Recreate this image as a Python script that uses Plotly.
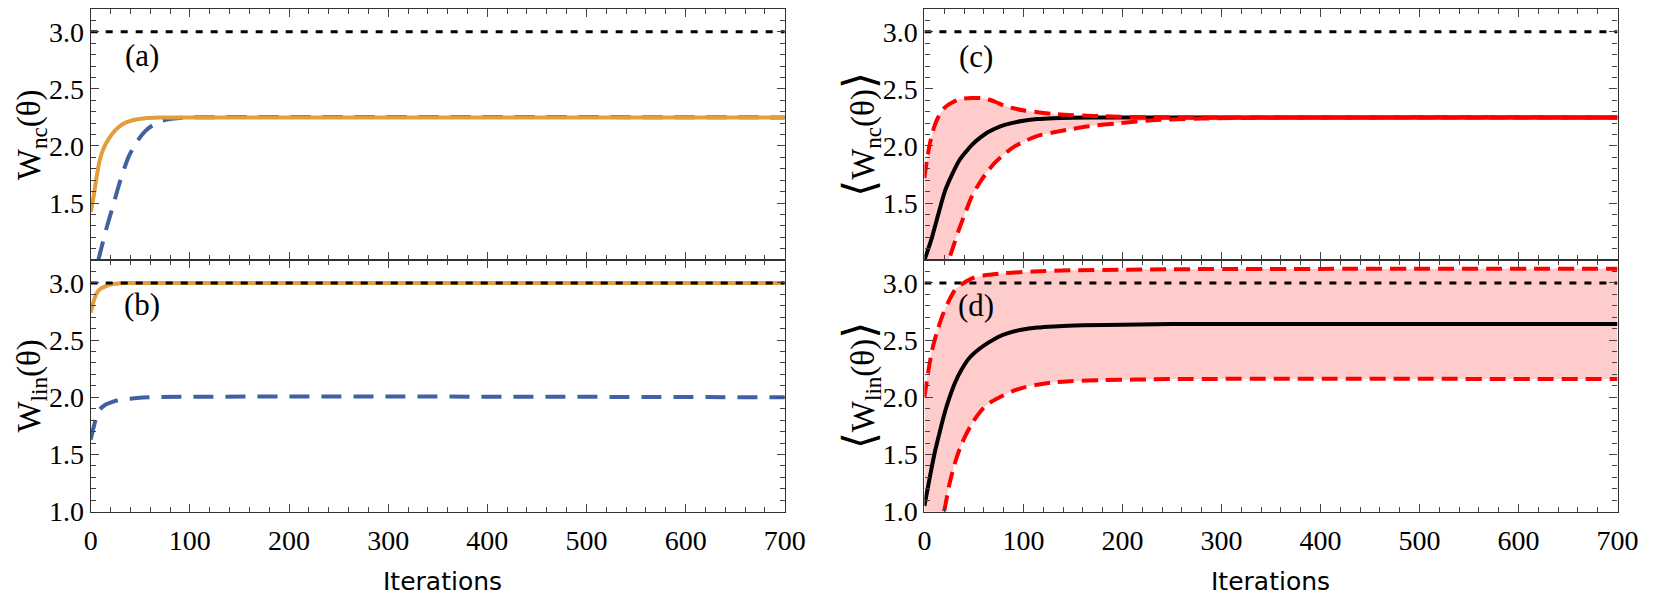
import plotly.graph_objects as go

# ---------------- data ----------------
# Panel (a): W_nc
a_orange_x = [0, 3, 6, 9, 13, 18, 24, 32, 42, 55, 70, 100, 700]
a_orange_y = [1.42, 1.56, 1.73, 1.87, 1.98, 2.06, 2.13, 2.19, 2.225, 2.243, 2.249, 2.25, 2.25]
a_blue_x = [0, 4, 8, 15, 22, 30, 38, 46, 55, 64, 72, 80, 90, 100, 700]
a_blue_y = [0.72, 0.87, 1.01, 1.25, 1.46, 1.70, 1.90, 2.03, 2.13, 2.19, 2.22, 2.235, 2.245, 2.25, 2.25]

# Panel (b): W_lin
b_orange_x = [0, 3, 6, 10, 16, 22, 30, 40, 700]
b_orange_y = [2.74, 2.84, 2.91, 2.95, 2.975, 2.99, 2.998, 3.0, 3.0]
b_blue_x = [0, 3, 6, 9, 14, 22, 30, 42, 60, 700]
b_blue_y = [1.63, 1.74, 1.83, 1.89, 1.93, 1.96, 1.98, 1.99, 2.0, 2.0]

# Panel (c): <W_nc> mean and band
c_mean_x = [0, 4, 8, 14, 21, 28, 35, 42, 48, 56, 64, 76, 88, 100, 114, 130, 150, 180, 220, 700]
c_mean_y = [1.0, 1.1, 1.21, 1.40, 1.61, 1.75, 1.87, 1.95, 2.01, 2.07, 2.12, 2.17, 2.20, 2.22, 2.235, 2.243, 2.247, 2.25, 2.25, 2.25]
c_up_x = [0, 3, 6, 10, 15, 21, 28, 36, 48, 56, 64, 72, 81, 90, 101, 115, 131, 150, 164, 180, 197, 230, 280, 700]
c_up_y = [1.72, 1.90, 2.04, 2.17, 2.27, 2.34, 2.38, 2.41, 2.42, 2.42, 2.41, 2.385, 2.35, 2.33, 2.31, 2.295, 2.28, 2.27, 2.265, 2.26, 2.255, 2.252, 2.25, 2.25]
c_lo_x = [0, 10, 20, 24.5, 30, 35, 42, 48, 56, 64, 72, 81, 90, 101, 115, 131, 150, 164, 197, 230, 280, 350, 700]
c_lo_y = [0.45, 0.7, 0.9, 1.0, 1.14, 1.27, 1.43, 1.56, 1.68, 1.78, 1.86, 1.93, 1.99, 2.04, 2.09, 2.12, 2.15, 2.17, 2.20, 2.225, 2.24, 2.248, 2.25]

# Panel (d): <W_lin> mean and band
d_mean_x = [0, 5, 10, 15, 20, 25, 31, 38, 46, 55, 65, 75, 86, 98, 114, 131, 160, 200, 250, 700]
d_mean_y = [1.05, 1.28, 1.50, 1.68, 1.85, 1.99, 2.13, 2.25, 2.35, 2.42, 2.48, 2.53, 2.565, 2.59, 2.61, 2.62, 2.63, 2.635, 2.64, 2.64]
d_up_x = [0, 4, 8, 13, 18, 24, 31, 38, 48, 60, 81, 110, 147, 200, 250, 700]
d_up_y = [2.0, 2.23, 2.42, 2.58, 2.71, 2.83, 2.94, 2.99, 3.04, 3.065, 3.085, 3.10, 3.11, 3.115, 3.12, 3.125]
d_lo_x = [0, 10, 15, 19.8, 25, 31, 38, 48, 56, 64, 76, 88, 100, 114, 130, 147, 180, 214, 260, 700]
d_lo_y = [0.4, 0.75, 0.88, 1.0, 1.23, 1.43, 1.60, 1.77, 1.87, 1.94, 2.0, 2.05, 2.085, 2.11, 2.13, 2.14, 2.15, 2.155, 2.16, 2.16]

ref_x = [0, 700]
ref_y = [3.0, 3.0]

x_ticks = [0, 100, 200, 300, 400, 500, 600, 700]
y_ticks_top = [1.5, 2.0, 2.5, 3.0]
y_ticks_bottom = [1.0, 1.5, 2.0, 2.5, 3.0]
panel_labels = ["(a)", "(b)", "(c)", "(d)"]

# ---------------- styling ----------------
ORANGE = "#E39D3A"
BLUE = "#3F62A0"
RED = "#FF0000"
FILL = "rgba(255,0,0,0.2)"
SERIF = "Times New Roman, Liberation Serif, DejaVu Serif, serif"
SANS = "DejaVu Sans, Verdana, sans-serif"

fig = go.Figure()

def line(x, y, ax, color, width, dash="solid", fill=None, fillcolor=None):
    fig.add_trace(go.Scatter(x=x, y=y, xaxis="x" + ax, yaxis="y" + ax, mode="lines",
                             line=dict(color=color, width=width, dash=dash, shape="spline", smoothing=0.8),
                             fill=fill, fillcolor=fillcolor,
                             showlegend=False, hoverinfo="skip"))

def band(xu, yu, xl, yl, ax):
    # invisible lower edge, then upper edge filled down to it
    line(xl, yl, ax, "rgba(0,0,0,0)", 0)
    line(xu, yu, ax, "rgba(0,0,0,0)", 0, fill="tonexty", fillcolor=FILL)

DOT = "7px,8px"
BLUE_DASH = "20px,12px"
RED_DASH = "16px,8px"

# (a)
line(ref_x, ref_y, "", "black", 3, DOT)
line(a_blue_x, a_blue_y, "", BLUE, 4, BLUE_DASH)
line(a_orange_x, a_orange_y, "", ORANGE, 4)
# (b)
line(b_blue_x, b_blue_y, "2", BLUE, 4, BLUE_DASH)
line(b_orange_x, b_orange_y, "2", ORANGE, 4)
line(ref_x, ref_y, "2", "black", 3, DOT)
# (c)
band(c_up_x, c_up_y, c_lo_x, c_lo_y, "3")
line(ref_x, ref_y, "3", "black", 3, DOT)
line(c_mean_x, c_mean_y, "3", "black", 4)
line(c_up_x, c_up_y, "3", RED, 4, RED_DASH)
line(c_lo_x, c_lo_y, "3", RED, 4, RED_DASH)
# (d)
band(d_up_x, d_up_y, d_lo_x, d_lo_y, "4")
line(ref_x, ref_y, "4", "black", 3, DOT)
line(d_mean_x, d_mean_y, "4", "black", 4)
line(d_up_x, d_up_y, "4", RED, 4, RED_DASH)
line(d_lo_x, d_lo_y, "4", RED, 4, RED_DASH)

W, H = 1661, 598
xl_dom = [77 / W, 783 / W]
xr_dom = [925 / W, 1630 / W]
yt_dom = [1 - 259 / H, 1 - 1 / H]
yb_dom = [1 - 517.5 / H, 1 - 259 / H]

tickfont = dict(family=SERIF, size=28, color="black")

def xaxis(dom, anchor, labels):
    return dict(domain=dom, anchor=anchor, range=[0, 700], tickvals=x_ticks,
                showticklabels=labels, tickfont=tickfont, ticklabelstandoff=4,
                showline=True, linecolor="#333333", linewidth=1.2, mirror="ticks",
                ticks="inside", ticklen=8, tickwidth=1.2, tickcolor="#444444",
                minor=dict(dtick=20, ticks="inside", ticklen=5, tickwidth=1, tickcolor="#444444"),
                showgrid=False, zeroline=False, fixedrange=True)

def yaxis(dom, anchor, tv):
    return dict(domain=dom, anchor=anchor, range=[1.0, 3.2], tickvals=tv,
                ticktext=["%.1f" % v for v in tv], tickfont=tickfont,
                showline=True, linecolor="#333333", linewidth=1.2, mirror="ticks",
                ticks="inside", ticklen=8, tickwidth=1.2, tickcolor="#444444",
                minor=dict(dtick=0.1, tick0=1.0, ticks="inside", ticklen=5, tickwidth=1, tickcolor="#444444"),
                showgrid=False, zeroline=False, fixedrange=True)

annotations = []
# panel labels
for ax, lab, yv in [("", panel_labels[0], 2.79), ("2", panel_labels[1], 2.815),
                    ("3", panel_labels[2], 2.78), ("4", panel_labels[3], 2.80)]:
    annotations.append(dict(x=52, y=yv, xref="x" + ax, yref="y" + ax, text=lab, showarrow=False,
                            font=dict(family=SERIF, size=31, color="black")))

ytitle_font = dict(family=SERIF, size=33, color="black")
LB = '<span style="font-size:44px">⟨</span>'
RB = '<span style="font-size:44px">⟩</span>'
y_titles = [
    ("W<sub>nc</sub>(θ)", 17, sum(yt_dom) / 2),
    ("W<sub>lin</sub>(θ)", 17, sum(yb_dom) / 2),
    (LB + "W<sub>nc</sub>(θ)" + RB, 860, sum(yt_dom) / 2),
    (LB + "W<sub>lin</sub>(θ)" + RB, 860, sum(yb_dom) / 2),
]
for txt, px, yc in y_titles:
    annotations.append(dict(x=px / W, y=yc, xref="paper", yref="paper", text=txt, textangle=-90,
                            showarrow=False, font=ytitle_font, xanchor="center", yanchor="middle"))
for cx in [435, 1277]:
    annotations.append(dict(x=cx / W, y=1 - 589 / H, xref="paper", yref="paper", text="Iterations",
                            showarrow=False, font=dict(family=SANS, size=25, color="black"),
                            xanchor="center", yanchor="middle"))

fig.update_layout(
    width=W, height=H,
    margin=dict(l=0, r=0, t=0, b=0),
    paper_bgcolor="white", plot_bgcolor="white",
    xaxis=xaxis(xl_dom, "y", False), yaxis=yaxis(yt_dom, "x", y_ticks_top),
    xaxis2=xaxis(xl_dom, "y2", True), yaxis2=yaxis(yb_dom, "x2", y_ticks_bottom),
    xaxis3=xaxis(xr_dom, "y3", False), yaxis3=yaxis(yt_dom, "x3", y_ticks_top),
    xaxis4=xaxis(xr_dom, "y4", True), yaxis4=yaxis(yb_dom, "x4", y_ticks_bottom),
    annotations=annotations,
    showlegend=False,
)

fig.write_html("out.html")
